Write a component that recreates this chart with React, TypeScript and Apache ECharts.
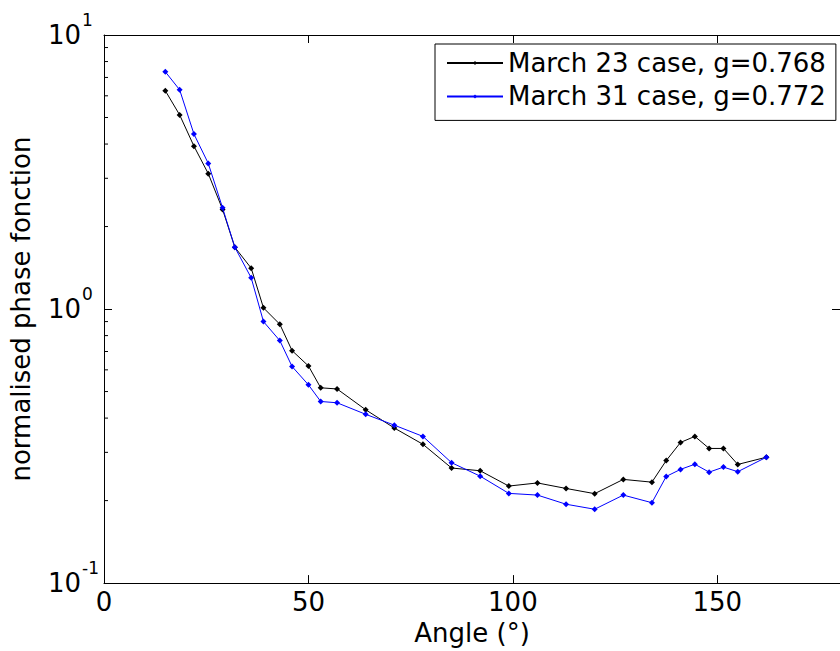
import React, { useEffect, useRef } from "react";
import * as echarts from "echarts";

const angles = [15, 18.5, 22, 25.5, 29, 32, 36, 39, 43, 46, 50, 53, 57, 64, 71, 78, 85, 92, 99, 106, 113, 120, 127, 134, 137.5, 141, 144.5, 148, 151.5, 155, 162];
const march23 = [6.26, 5.11, 3.93, 3.12, 2.31, 1.68, 1.41, 1.01, 0.88, 0.705, 0.62, 0.516, 0.511, 0.429, 0.368, 0.321, 0.263, 0.257, 0.226, 0.232, 0.2215, 0.212, 0.239, 0.2335, 0.28, 0.326, 0.343, 0.31, 0.31, 0.271, 0.288];
const march31 = [7.34, 6.31, 4.35, 3.4, 2.34, 1.68, 1.3, 0.9, 0.767, 0.617, 0.529, 0.46, 0.455, 0.413, 0.377, 0.343, 0.275, 0.2456, 0.2125, 0.2095, 0.194, 0.186, 0.2095, 0.1965, 0.245, 0.26, 0.2715, 0.254, 0.265, 0.255, 0.288];
const seriesNames = ["March 23 case, g=0.768", "March 31 case, g=0.772"];
const minorTickValues = [0.2, 0.3, 0.4, 0.5, 0.6, 0.7, 0.8, 0.9, 2, 3, 4, 5, 6, 7, 8, 9];
const xLabel = "Angle (°)";
const yLabel = "normalised phase fonction";

const FONT = "DejaVu Sans";

export default function App() {
  const ref = useRef<HTMLDivElement>(null);
  useEffect(() => {
    if (!ref.current) return;
    const chart = echarts.init(ref.current, undefined, { renderer: "svg" });
    const axisLineStyle = { color: "#000", width: 1 };
    chart.setOption({
      animation: false,
      backgroundColor: "#fff",
      textStyle: { fontFamily: FONT, color: "#000" },
      grid: { left: 104, top: 35, width: 741.6, height: 550, containLabel: false },
      legend: {
        data: seriesNames,
        orient: "vertical",
        left: 435,
        top: 44,
        backgroundColor: "#fff",
        borderColor: "#000",
        borderWidth: 1,
        borderRadius: 0,
        padding: [6, 10, 11, 11],
        itemWidth: 56,
        itemHeight: 5,
        itemGap: 7.4,
        textStyle: { fontFamily: FONT, fontSize: 26, lineHeight: 26, color: "#000" },
      },
      xAxis: [
        {
          type: "value",
          min: 0,
          max: 180,
          interval: 50,
          position: "bottom",
          name: xLabel,
          nameLocation: "middle",
          nameGap: 33,
          nameTextStyle: { fontFamily: FONT, fontSize: 26, color: "#000" },
          axisLine: { show: true, onZero: false, lineStyle: axisLineStyle },
          axisTick: { show: true, inside: true, length: 8, lineStyle: axisLineStyle },
          axisLabel: { show: true, showMaxLabel: false, fontFamily: FONT, fontSize: 26, color: "#000", margin: 6 },
          splitLine: { show: false },
        },
        {
          type: "value",
          min: 0,
          max: 180,
          interval: 50,
          position: "top",
          axisLine: { show: true, onZero: false, lineStyle: axisLineStyle },
          axisTick: { show: true, inside: true, length: 8, lineStyle: axisLineStyle },
          axisLabel: { show: false },
          splitLine: { show: false },
        },
      ],
      yAxis: [
        {
          type: "log",
          logBase: 10,
          min: 0.1,
          max: 10,
          position: "left",
          name: yLabel,
          nameLocation: "middle",
          nameGap: 70,
          nameRotate: 90,
          nameTextStyle: { fontFamily: FONT, fontSize: 26, color: "#000" },
          axisLine: { show: true, onZero: false, lineStyle: axisLineStyle },
          axisTick: { show: true, inside: true, length: 8, lineStyle: axisLineStyle },
          axisLabel: {
            show: true,
            align: "left",
            margin: 56,
            formatter: (v: number) => {
              const e = Math.round(Math.log10(v));
              return "{b|10}{s|" + e + "}";
            },
            rich: {
              b: { fontFamily: FONT, fontSize: 26, lineHeight: 26, color: "#000" },
              s: { fontFamily: FONT, fontSize: 17, lineHeight: 17, color: "#000", padding: [0, 0, 30, 1] },
            },
          },
          splitLine: { show: false },
        },
        {
          type: "log",
          logBase: 10,
          min: 0.1,
          max: 10,
          position: "right",
          axisLine: { show: true, onZero: false, lineStyle: axisLineStyle },
          axisTick: { show: true, inside: true, length: 8, lineStyle: axisLineStyle },
          axisLabel: { show: false },
          splitLine: { show: false },
        },
      ],
      series: [
        {
          name: seriesNames[0],
          type: "line",
          xAxisIndex: 0,
          yAxisIndex: 0,
          data: angles.map((a, i) => [a, march23[i]]),
          symbol: "diamond",
          symbolSize: 6,
          showAllSymbol: true,
          lineStyle: { color: "#000", width: 1 },
          itemStyle: { color: "#000" },
          z: 2,
        },
        {
          name: seriesNames[1],
          type: "line",
          xAxisIndex: 0,
          yAxisIndex: 0,
          data: angles.map((a, i) => [a, march31[i]]),
          symbol: "diamond",
          symbolSize: 6,
          showAllSymbol: true,
          lineStyle: { color: "#0000ff", width: 1 },
          itemStyle: { color: "#0000ff" },
          z: 3,
        },
        {
          type: "custom",
          name: "minorTicks",
          xAxisIndex: 0,
          yAxisIndex: 0,
          silent: true,
          clip: false,
          data: minorTickValues.map((v) => [0, v]),
          renderItem: (params: any, api: any) => {
            const p = api.coord([0, api.value(1)]);
            return {
              type: "line",
              shape: { x1: p[0], y1: p[1], x2: p[0] + 4, y2: p[1] },
              style: { stroke: "#000", lineWidth: 1 },
            };
          },
          z: 4,
        },
      ],
    });
    return () => chart.dispose();
  }, []);
  return (
    <div
      ref={ref}
      style={{ position: "fixed", left: 0, top: 0, width: 840, height: 651, background: "#fff" }}
    />
  );
}
